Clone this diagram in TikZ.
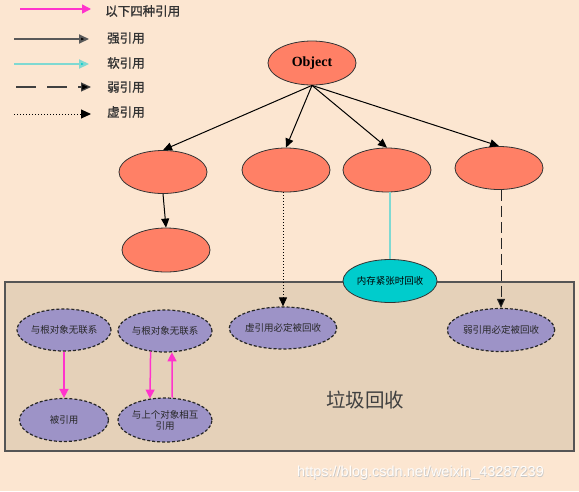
\documentclass[tikz,border=0pt]{standalone}
\usepackage{fontspec}
\setmainfont{Liberation Serif}
\newfontfamily\cjk{Noto Sans CJK SC}
\newfontfamily\cjkbold[FakeBold=1.2]{Noto Sans CJK SC}
\newfontfamily\wmfont{Liberation Sans}
\usetikzlibrary{shapes.geometric,arrows.meta}
\definecolor{bg}{HTML}{FCE6D1}
\definecolor{boxfill}{HTML}{E5D1B9}
\definecolor{boxline}{HTML}{555555}
\definecolor{salmon}{HTML}{FF8066}
\definecolor{cyanfill}{HTML}{00CCCC}
\definecolor{cyanline}{HTML}{7FD9D2}
\definecolor{lav}{HTML}{9D93C7}
\definecolor{pinkar}{HTML}{FF33CC}
\definecolor{txt}{HTML}{333333}
\begin{document}
\begin{tikzpicture}[x=1pt,y=-1pt,
  tip/.style={-{Triangle[length=9pt,width=8pt]}},
  obj/.style={ellipse,draw=black!80,line width=0.8pt,fill=salmon,inner sep=0pt,minimum width=88pt,minimum height=43pt},
  soft/.style={ellipse,draw=black!80,line width=0.8pt,fill=cyanfill,inner sep=0pt,minimum width=87pt,minimum height=43pt,font=\cjk\fontsize{9.5}{11}\selectfont},
  gcnode/.style={ellipse,draw=black!85,line width=1.2pt,dash pattern=on 3pt off 2pt,fill=lav,inner sep=0pt,minimum height=42pt,align=center,font=\cjk\fontsize{9.5}{11}\selectfont,text=black!85},
  legtext/.style={anchor=west,inner sep=0pt,font=\cjkbold\fontsize{12.5}{14}\selectfont,text=txt},
  strong/.style={tip,line width=1pt,draw=black},
  pinkarrow/.style={-{Triangle[length=9pt,width=9pt]},line width=1.5pt,draw=pinkar,fill=pinkar},
]
\useasboundingbox (0,0) rectangle (579,491);
\fill[bg] (0,0) rectangle (579,491);

% garbage collection box
\node[draw=boxline,line width=1.6pt,fill=boxfill,minimum width=569pt,minimum height=169pt,inner sep=0pt] (gcbox) at (289.5,366.5) {};
\node[font=\cjk\fontsize{19.5}{22}\selectfont,text=black!75] (gclabel) at (365,400) {垃圾回收};

% legend
\coordinate (p1) at (20,9);  \coordinate (p2) at (91,9);
\coordinate (s1) at (14,39); \coordinate (s2) at (89,39);
\coordinate (r1) at (14,64); \coordinate (r2) at (89,64);
\coordinate (w1) at (16,87); \coordinate (w2) at (91,87);
\coordinate (v1) at (14,114);\coordinate (v2) at (91,114);
\draw[pinkarrow] (p1) -- (p2);
\draw[line width=2pt,draw=black!65,-{Triangle[length=10pt,width=9pt,fill=black]}] (s1) -- (s2);
\draw[line width=2.2pt,draw=cyanline,-{Triangle[length=10pt,width=9pt,fill=cyanfill]}] (r1) -- (r2);
\draw[line width=1.2pt,draw=black!75,dash pattern=on 20pt off 11pt,-{Triangle[length=10pt,width=9pt,fill=black]}] (w1) -- (w2);
\draw[line width=1pt,draw=black,dotted,-{Triangle[length=10pt,width=9pt,fill=black]}] (v1) -- (v2);
\node[legtext] (l0) at (105,11) {以下四种引用};
\node[legtext] (ls) at (107,38) {强引用};
\node[legtext] (lr) at (107,63) {软引用};
\node[legtext] (lw) at (107,87) {弱引用};
\node[legtext] (lv) at (107,112) {虚引用};

% object tree
\node[obj,minimum height=44pt] (object) at (312,63) {\fontsize{14}{16}\selectfont\bfseries Object};
\node[obj] (a) at (163,172) {};
\node[obj,minimum height=44pt] (b) at (286,170) {};
\node[obj,minimum height=44pt] (c) at (387,170) {};
\node[obj] (d) at (499,168) {};
\node[obj,minimum height=44pt] (a2) at (166,250) {};

\draw[strong] (object.south) -- (a.north);
\draw[strong] (object.south) -- (b.north);
\draw[strong] (object.south) -- (c.north);
\draw[strong] (object.south) -- (d.north);
\draw[strong] (a.south) -- (a2.north);

\node[soft] (mem) at (390,281) {内存紧张时回收};
\node[gcnode,minimum width=97pt] (xu) at (283,328) {虚引用必定被回收};
\node[gcnode,minimum width=100pt,minimum height=43pt] (ruo) at (501,330) {弱引用必定被回收};

\draw[line width=2.6pt,draw=cyanline] (c.south -| mem.north) -- (mem.north);
\draw[line width=1pt,dotted,-{Triangle[length=9pt,width=8pt]}] (b.south -| xu.north) -- (xu.north);
\draw[line width=1pt,draw=black!85,dash pattern=on 11pt off 5pt,-{Triangle[length=9pt,width=8pt,fill=black]}] (d.south -| ruo.north) -- (ruo.north);

% unreachable objects
\node[gcnode,minimum width=88pt] (n1) at (64,330) {与根对象无联系};
\node[gcnode,minimum width=94pt] (n2) at (165,331) {与根对象无联系};
\node[gcnode,minimum width=89pt,minimum height=43pt] (n3) at (64,420) {被引用};
\node[gcnode,minimum width=94pt,minimum height=44pt] (n4) at (165,420) {与上个对象相互\\引用};

\draw[pinkarrow] (n1.south) -- (n3.north);
\draw[pinkarrow] (n2.-125) -- (n4.125);
\draw[pinkarrow] (n4.72) -- (n2.-72);

% watermark
\node[font=\wmfont\fontsize{14.5}{16}\selectfont,text=black!22,anchor=west,inner sep=0pt] (wm0) at (297.6,473.6) {https://blog.csdn.net/weixin\_43287239};
\node[font=\wmfont\fontsize{14.5}{16}\selectfont,text=white!92!bg,anchor=west,inner sep=0pt] (wm) at (297,473) {https://blog.csdn.net/weixin\_43287239};
\end{tikzpicture}
\end{document}
